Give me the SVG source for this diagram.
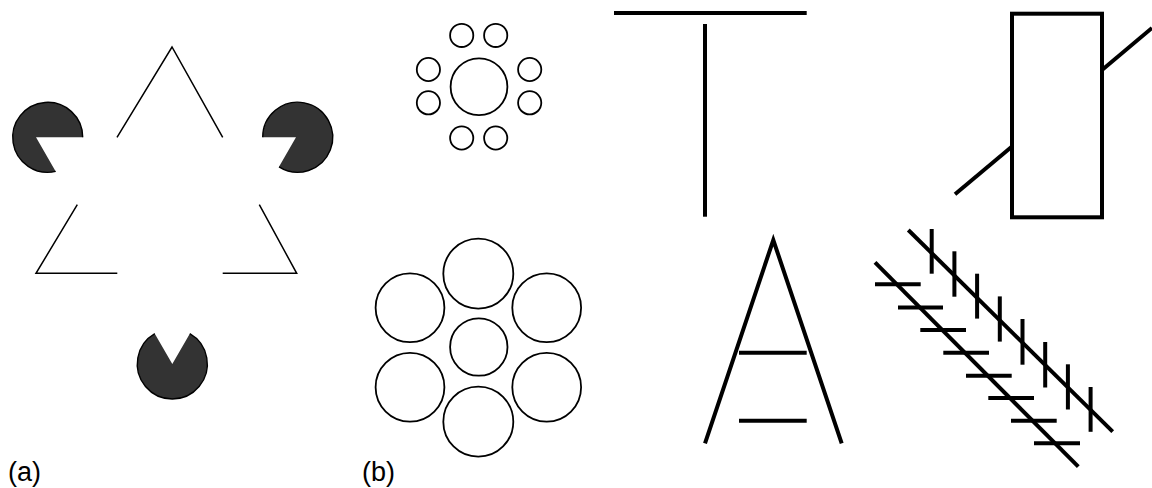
<svg xmlns="http://www.w3.org/2000/svg" width="1152" height="488" viewBox="0 0 1152 488">
  <style>
    .thin { fill: none; stroke: #000; stroke-width: 1.5; stroke-linecap: butt; stroke-linejoin: miter; }
    .ring { fill: #fff; stroke: #000; stroke-width: 1.8; }
    .bold { fill: none; stroke: #000; stroke-width: 4; stroke-linecap: butt; }
    .pac { fill: #333333; stroke: none; }
    .rim { fill: none; stroke: #000; stroke-width: 1.4; }
    .label { font-family: "Liberation Sans", Arial, sans-serif; font-size: 27px; fill: #000; }
  </style>

  <rect width="1152" height="488" fill="#fff"/>

  <!-- (a) Kanizsa triangle: outlined triangle fragments and three notched discs -->
  <g id="kanizsa">
    <g id="kanizsa-outline" class="thin">
      <polyline points="117,137.3 172,47 222.7,137.3"/>
      <polyline points="77.3,204.7 36,273.3 117.3,273.3"/>
      <polyline points="259.3,204.7 296.7,273.3 222.7,273.3"/>
    </g>
    <g id="disc-left">
      <path class="pac" d="M36,137.3 L82.7,137.3 A35,35 0 1 0 55.7,171.4 Z"/>
      <path class="rim" d="M82.7,137.3 A35,35 0 1 0 55.7,171.4"/>
    </g>
    <g id="disc-right">
      <path class="pac" d="M296,137.3 L262.7,137.3 A35,35 0 1 1 279,166.8 Z"/>
      <path class="rim" d="M262.7,137.3 A35,35 0 1 1 279,166.8"/>
    </g>
    <g id="disc-bottom">
      <path class="pac" d="M172.3,364 L189.8,333.7 A35,35 0 1 1 154.8,333.7 Z"/>
      <path class="rim" d="M189.8,333.7 A35,35 0 1 1 154.8,333.7"/>
    </g>
  </g>

  <!-- (b) Ebbinghaus: centre circle ringed by small circles -->
  <g id="ebbinghaus-small" class="ring">
    <circle cx="479" cy="86.7" r="28.4"/>
    <circle cx="461.7" cy="35.4" r="11.6"/>
    <circle cx="495.7" cy="35.4" r="11.6"/>
    <circle cx="461.7" cy="138" r="11.6"/>
    <circle cx="495.7" cy="138" r="11.6"/>
    <circle cx="428.4" cy="69.5" r="11.6"/>
    <circle cx="428.4" cy="102.8" r="11.6"/>
    <circle cx="529.7" cy="69.5" r="11.6"/>
    <circle cx="529.7" cy="102.8" r="11.6"/>
  </g>

  <!-- Ebbinghaus: centre circle ringed by large circles -->
  <g id="ebbinghaus-large" class="ring">
    <circle cx="478.8" cy="347" r="28.7"/>
    <circle cx="478.3" cy="273.7" r="35"/>
    <circle cx="410" cy="307.8" r="34.4"/>
    <circle cx="546.7" cy="307.8" r="34.4"/>
    <circle cx="410" cy="387.3" r="34.4"/>
    <circle cx="546.7" cy="387.3" r="34.4"/>
    <circle cx="478.3" cy="421.7" r="35"/>
  </g>

  <!-- Inverted T (horizontal–vertical) figure -->
  <g id="t-figure" class="bold">
    <line x1="614" y1="13" x2="806.7" y2="13"/>
    <line x1="705" y1="24" x2="705" y2="216.7"/>
  </g>

  <!-- Poggendorff: slanted line interrupted by a rectangle -->
  <g id="poggendorff" class="bold">
    <rect x="1012" y="13.7" width="90" height="203.6"/>
    <line x1="955" y1="194.3" x2="1012" y2="146.5"/>
    <line x1="1102" y1="70" x2="1152" y2="28"/>
  </g>

  <!-- Ponzo: converging rails with two equal bars -->
  <g id="ponzo" class="bold">
    <polyline points="705,443.3 773.3,240 841.7,443.3" stroke-linejoin="miter"/>
    <line x1="739" y1="352.7" x2="806.7" y2="352.7"/>
    <line x1="739" y1="420.7" x2="806.7" y2="420.7"/>
  </g>

  <!-- Zöllner: parallel diagonals with crossing hatch marks -->
  <g id="zollner" class="bold">
    <line x1="908.3" y1="230" x2="1112.7" y2="431.7"/>
    <line x1="875" y1="262.3" x2="1078.3" y2="466.7"/>
    <g id="zollner-vertical">
      <line x1="931.7" y1="229" x2="931.7" y2="273.7"/>
      <line x1="954.4" y1="251.3" x2="954.4" y2="296.7"/>
      <line x1="977.1" y1="273.7" x2="977.1" y2="318.6"/>
      <line x1="999.8" y1="296.4" x2="999.8" y2="341.6"/>
      <line x1="1022.5" y1="319" x2="1022.5" y2="364.7"/>
      <line x1="1045.2" y1="342" x2="1045.2" y2="387.5"/>
      <line x1="1067.9" y1="364.3" x2="1067.9" y2="409.5"/>
      <line x1="1090.6" y1="387" x2="1090.6" y2="431.8"/>
    </g>
    <g id="zollner-horizontal">
      <line x1="875" y1="284.3" x2="920.7" y2="284.3"/>
      <line x1="898" y1="307.5" x2="943" y2="307.5"/>
      <line x1="920.3" y1="330" x2="966" y2="330"/>
      <line x1="943.3" y1="352.7" x2="989" y2="352.7"/>
      <line x1="966" y1="375.7" x2="1011.7" y2="375.7"/>
      <line x1="988.3" y1="398" x2="1034" y2="398"/>
      <line x1="1011" y1="420.7" x2="1056.7" y2="420.7"/>
      <line x1="1034" y1="443.3" x2="1080" y2="443.3"/>
    </g>
  </g>

  <!-- Panel labels -->
  <g id="labels">
    <text class="label" x="8" y="481">(a)</text>
    <text class="label" x="362" y="481">(b)</text>
  </g>
</svg>
